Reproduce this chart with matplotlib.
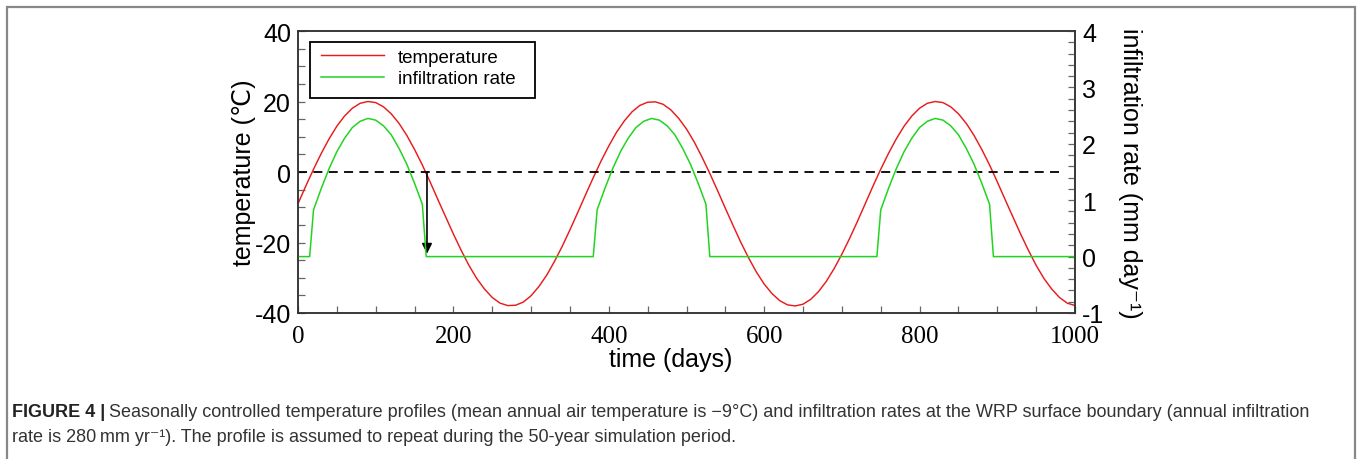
import matplotlib
matplotlib.use("Agg")
from matplotlib import pyplot as plt
from matplotlib.patches import Rectangle
from matplotlib.ticker import MultipleLocator

# air temperature (deg C) sampled every 10 days
days = list(range(0, 1001, 10))
temperature = [
    -9.0, -4.0, 0.8, 5.3, 9.4, 13.0, 15.9, 18.1, 19.5, 20.0,
    19.7, 18.5, 16.5, 13.8, 10.4, 6.4, 2.0, -2.8, -7.8, -12.7,
    -17.6, -22.2, -26.5, -30.2, -33.2, -35.6, -37.2, -37.9, -37.8, -36.9,
    -35.1, -32.5, -29.3, -25.4, -21.1, -16.4, -11.5, -6.5, -1.6, 3.1,
    7.4, 11.3, 14.5, 17.1, 18.9, 19.8, 19.9, 19.2, 17.6, 15.2,
    12.2, 8.5, 4.2, -0.4, -5.3, -10.3, -15.2, -20.0, -24.4, -28.4,
    -31.8, -34.5, -36.5, -37.7, -38.0, -37.5, -36.1, -33.9, -31.0, -27.4,
    -23.3, -18.8, -14.0, -9.0, -4.0, 0.8, 5.3, 9.4, 13.0, 15.9,
    18.1, 19.5, 20.0, 19.7, 18.5, 16.5, 13.8, 10.4, 6.4, 2.0,
    -2.8, -7.8, -12.7, -17.6, -22.2, -26.5, -30.2, -33.2, -35.6, -37.2,
    -37.9,
]

# infiltration rate (mm/day), zero while the surface is frozen
infil_days = [
    0, 15, 20, 30, 40, 50, 60, 70, 80, 90, 100, 110, 120, 130, 140, 150, 160, 165,
    380, 385, 395, 405, 415, 425, 435, 445, 455, 465, 475, 485, 495, 505, 515, 525, 530,
    745, 750, 760, 770, 780, 790, 800, 810, 820, 830, 840, 850, 860, 870, 880, 890, 895,
    1000,
]
infil_rate = [
    0, 0, 0.83, 1.21, 1.56, 1.86, 2.10, 2.29, 2.40, 2.45, 2.42, 2.32, 2.16, 1.92, 1.64, 1.30, 0.93, 0,
    0, 0.83, 1.21, 1.56, 1.86, 2.10, 2.29, 2.40, 2.45, 2.42, 2.32, 2.16, 1.92, 1.64, 1.30, 0.93, 0,
    0, 0.83, 1.21, 1.56, 1.86, 2.10, 2.29, 2.40, 2.45, 2.42, 2.32, 2.16, 1.92, 1.64, 1.30, 0.93, 0,
    0,
]

freezing_line_days = [0, 980]
freezing_temp = 0
arrow_day = 166
arrow_end_temp = -24

x_ticks = [0, 200, 400, 600, 800, 1000]
temp_ticks = [-40, -20, 0, 20, 40]
infil_ticks = [-1, 0, 1, 2, 3, 4]

SANS = ["Liberation Sans", "DejaVu Sans"]
SERIF = ["Liberation Serif", "DejaVu Serif"]

plt.rcParams["font.family"] = SANS
plt.rcParams["axes.unicode_minus"] = False
plt.rcParams["axes.linewidth"] = 1.1
plt.rcParams["axes.edgecolor"] = "#333333"

fig = plt.figure(figsize=(13.57, 4.60), dpi=100)
ax = fig.add_axes([0.2196, 0.3174, 0.5726, 0.6130])
ax2 = ax.twinx()

line_t, = ax.plot(days, temperature, color="#e81c1c", lw=1.05, label="temperature")
ax.plot(freezing_line_days, [freezing_temp, freezing_temp], color="black", lw=1.3,
        linestyle=(0, (5, 3.5)))
ax.annotate("", xy=(arrow_day, arrow_end_temp + 0.8), xytext=(arrow_day, freezing_temp),
            arrowprops=dict(arrowstyle="-|>", color="black", lw=1.2,
                            mutation_scale=15, shrinkA=0, shrinkB=0))
line_i, = ax2.plot(infil_days, infil_rate, color="#22d422", lw=1.1, label="infiltration rate")

ax.set_xlim(0, 1000)
ax.set_ylim(-40, 40)
ax2.set_ylim(-1, 4)

ax.set_xticks(x_ticks)
ax.xaxis.set_minor_locator(MultipleLocator(50))
ax.set_yticks(temp_ticks)
ax.yaxis.set_minor_locator(MultipleLocator(5))
ax2.set_yticks(infil_ticks)
ax2.yaxis.set_minor_locator(MultipleLocator(0.2))

ax.tick_params(axis="both", which="both", direction="in", top=False, right=False,
               color="#666666", width=0.9, length=5)
ax.tick_params(axis="y", labelsize=18, pad=5)
ax.tick_params(axis="x", labelsize=18, pad=9)
for lbl in ax.get_xticklabels():
    lbl.set_fontfamily(SERIF)
ax2.tick_params(axis="y", which="both", direction="in", color="#666666", width=0.9,
                length=5, labelsize=18, pad=5)

ax.set_xlabel("time (days)", fontsize=18)
ax.set_ylabel("temperature (\u2103)", fontsize=18)
ax2.set_ylabel("infiltration rate (mm day\u207b\u00b9)", fontsize=18, rotation=270,
               va="bottom")
ax.xaxis.set_label_coords(0.48, -0.12)
ax.yaxis.set_label_coords(-0.054, 0.5)
ax2.yaxis.set_label_coords(1.055, 0.5)

# legend entries without frame, framed by a separate box
leg = ax2.legend([line_t, line_i], ["temperature", "infiltration rate"],
                 loc="upper left", bbox_to_anchor=(0.022, 0.958), fontsize=13.5,
                 frameon=False, handlelength=3.4, handletextpad=0.7,
                 borderpad=0.3, labelspacing=0.25, borderaxespad=0)
ax2.add_patch(Rectangle((0.0154, 0.762), 0.2896, 0.199, transform=ax2.transAxes,
                        fill=False, edgecolor="black", lw=1.3, zorder=5))

# outer frame around figure and caption
fig.patches.append(Rectangle((7 / 1357, -0.05), 1348 / 1357, 0.05 + 452 / 460,
                             transform=fig.transFigure, fill=False,
                             edgecolor="#888888", lw=1.6))

# caption
cap_size = 13
renderer = fig.canvas.get_renderer()
head = fig.text(12 / 1357, 1 - 413 / 460, "FIGURE 4 |", fontsize=cap_size,
                fontweight="bold", va="center", color="#222222")
head_w = head.get_window_extent(renderer).width
fig.text((12 + head_w + 4) / 1357, 1 - 413 / 460,
         "Seasonally controlled temperature profiles (mean annual air temperature is "
         "\u22129\u00b0C) and infiltration rates at the WRP surface boundary (annual infiltration",
         fontsize=cap_size, va="center", color="#333333")
fig.text(12 / 1357, 1 - 438 / 460,
         "rate is 280\u2009mm yr\u207b\u00b9). The profile is assumed to repeat during the "
         "50-year simulation period.",
         fontsize=cap_size, va="center", color="#333333")

fig.savefig("out.png", dpi=100)
